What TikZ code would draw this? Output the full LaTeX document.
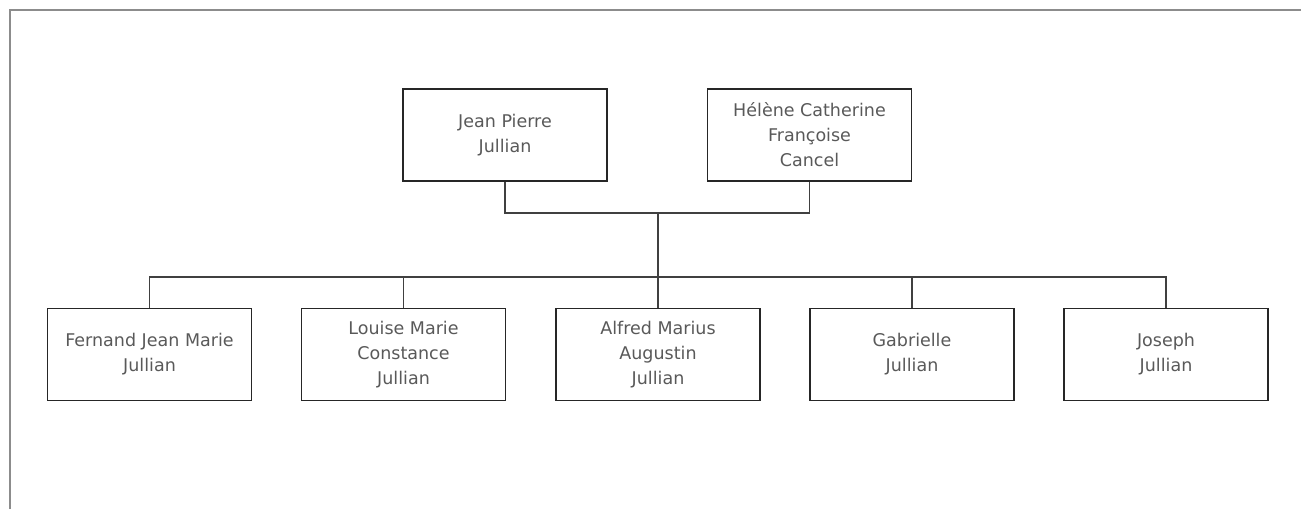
\documentclass[tikz,border=0pt]{standalone}
\usepackage{fontspec}
\setmainfont{DejaVu Sans}
\begin{document}
\begin{tikzpicture}[x=1pt,y=1pt,
  person/.style={draw=black!85, line width=1.6pt, minimum width=204pt, minimum height=92pt,
    align=center, inner sep=2pt, text=black!65, font=\fontsize{17.5}{25}\selectfont},
  link/.style={draw=black!75, line width=1.6pt}]
\useasboundingbox (0,0) rectangle (1301,509);
\draw[gray!90, line width=2pt] (10,0) -- (10,499) -- (1301,499);
\node[person] (jean) at (505,374) {Jean Pierre\\Jullian};
\node[person] (hel) at (809.5,374) {Hélène Catherine\\Françoise\\Cancel};
\node[person] (fer) at (149.5,154.5) {Fernand Jean Marie\\Jullian};
\node[person] (lou) at (403.5,154.5) {Louise Marie\\Constance\\Jullian};
\node[person] (alf) at (658,154.5) {Alfred Marius\\Augustin\\Jullian};
\node[person] (gab) at (912,154.5) {Gabrielle\\Jullian};
\node[person] (jos) at (1166,154.5) {Joseph\\Jullian};
\coordinate (fam) at (658,296);
\coordinate (bus) at (658,232);
\draw[link] (jean.south) |- (fam) -| (hel.south);
\draw[link] (fam) -- (bus);
\draw[link] (bus) -| (fer.north);
\draw[link] (bus) -| (lou.north);
\draw[link] (bus) -- (alf.north);
\draw[link] (bus) -| (gab.north);
\draw[link] (bus) -| (jos.north);
\end{tikzpicture}
\end{document}
